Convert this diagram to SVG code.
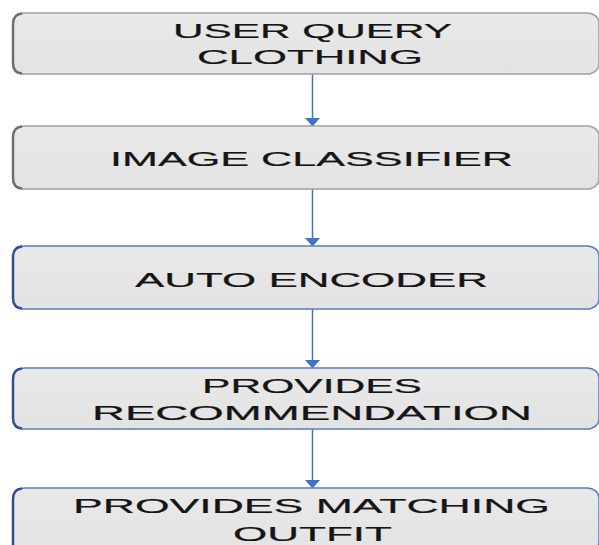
<svg xmlns="http://www.w3.org/2000/svg" width="599" height="545" viewBox="0 0 599 545">
<defs>
<linearGradient id="fillg" x1="0" y1="0" x2="0" y2="1">
<stop offset="0" stop-color="#e9e9e9"/>
<stop offset="1" stop-color="#e3e3e3"/>
</linearGradient>
<marker id="ah" markerWidth="9" markerHeight="16" refX="9" refY="8" orient="auto" markerUnits="userSpaceOnUse">
<path d="M0,0 L9,8 L0,16 Z" fill="#4472c4"/>
</marker>
<style>
.box{fill:url(#fillg);stroke-width:1.5}
.gray{stroke:#a0a0a0}
.blue{stroke:#5a7dbd}
.lg{stroke:#6e6e6e;stroke-width:2.5;fill:none}
.lb{stroke:#2f4f8f;stroke-width:2.5;fill:none}
.t{font-family:"Liberation Sans",Arial,sans-serif;font-size:20.5px;fill:#151515;stroke:#151515;stroke-width:0.2;text-anchor:middle}
.c{stroke:#4472c4;stroke-width:1.5;fill:none}
</style>
</defs>
<rect width="599" height="545" fill="#ffffff"/>
<g id="connectors">
<line class="c" x1="312.5" y1="74" x2="312.5" y2="126.5" marker-end="url(#ah)"/>
<line class="c" x1="312.5" y1="189" x2="312.5" y2="246.5" marker-end="url(#ah)"/>
<line class="c" x1="312.5" y1="309" x2="312.5" y2="368.5" marker-end="url(#ah)"/>
<line class="c" x1="312.5" y1="429" x2="312.5" y2="488.5" marker-end="url(#ah)"/>
</g>
<g id="node1">
<rect class="box gray" x="13" y="13" width="586" height="61" rx="12" ry="10"/>
<path class="lg" d="M22,13.5 Q13,14 13,24 L13,63 Q13,73 22,73.5"/>
<text class="t" x="312.5" y="38" textLength="279" lengthAdjust="spacingAndGlyphs">USER QUERY</text>
<text class="t" x="310" y="64" textLength="226" lengthAdjust="spacingAndGlyphs">CLOTHING</text>
</g>
<g id="node2">
<rect class="box gray" x="13" y="126" width="586" height="63" rx="12" ry="10"/>
<path class="lg" d="M22,126.5 Q13,127 13,137 L13,178 Q13,188 22,188.5"/>
<text class="t" x="311.5" y="166" textLength="403" lengthAdjust="spacingAndGlyphs">IMAGE CLASSIFIER</text>
</g>
<g id="node3">
<rect class="box blue" x="13" y="246" width="586" height="63" rx="12" ry="10"/>
<path class="lb" d="M22,246.5 Q13,247 13,257 L13,298 Q13,308 22,308.5"/>
<text class="t" x="311.5" y="287" textLength="353" lengthAdjust="spacingAndGlyphs">AUTO ENCODER</text>
</g>
<g id="node4">
<rect class="box blue" x="13" y="368" width="586" height="61" rx="12" ry="10"/>
<path class="lb" d="M22,368.5 Q13,369 13,379 L13,418 Q13,428 22,428.5"/>
<text class="t" x="312" y="393" textLength="220" lengthAdjust="spacingAndGlyphs">PROVIDES</text>
<text class="t" x="312" y="420" textLength="440" lengthAdjust="spacingAndGlyphs">RECOMMENDATION</text>
</g>
<g id="node5">
<rect class="box blue" x="13" y="488" width="586" height="64" rx="12" ry="10"/>
<path class="lb" d="M22,488.5 Q13,489 13,499 L13,552"/>
<text class="t" x="311.5" y="513" textLength="477" lengthAdjust="spacingAndGlyphs">PROVIDES MATCHING</text>
<text class="t" x="312.5" y="541" textLength="159" lengthAdjust="spacingAndGlyphs">OUTFIT</text>
</g>
</svg>
